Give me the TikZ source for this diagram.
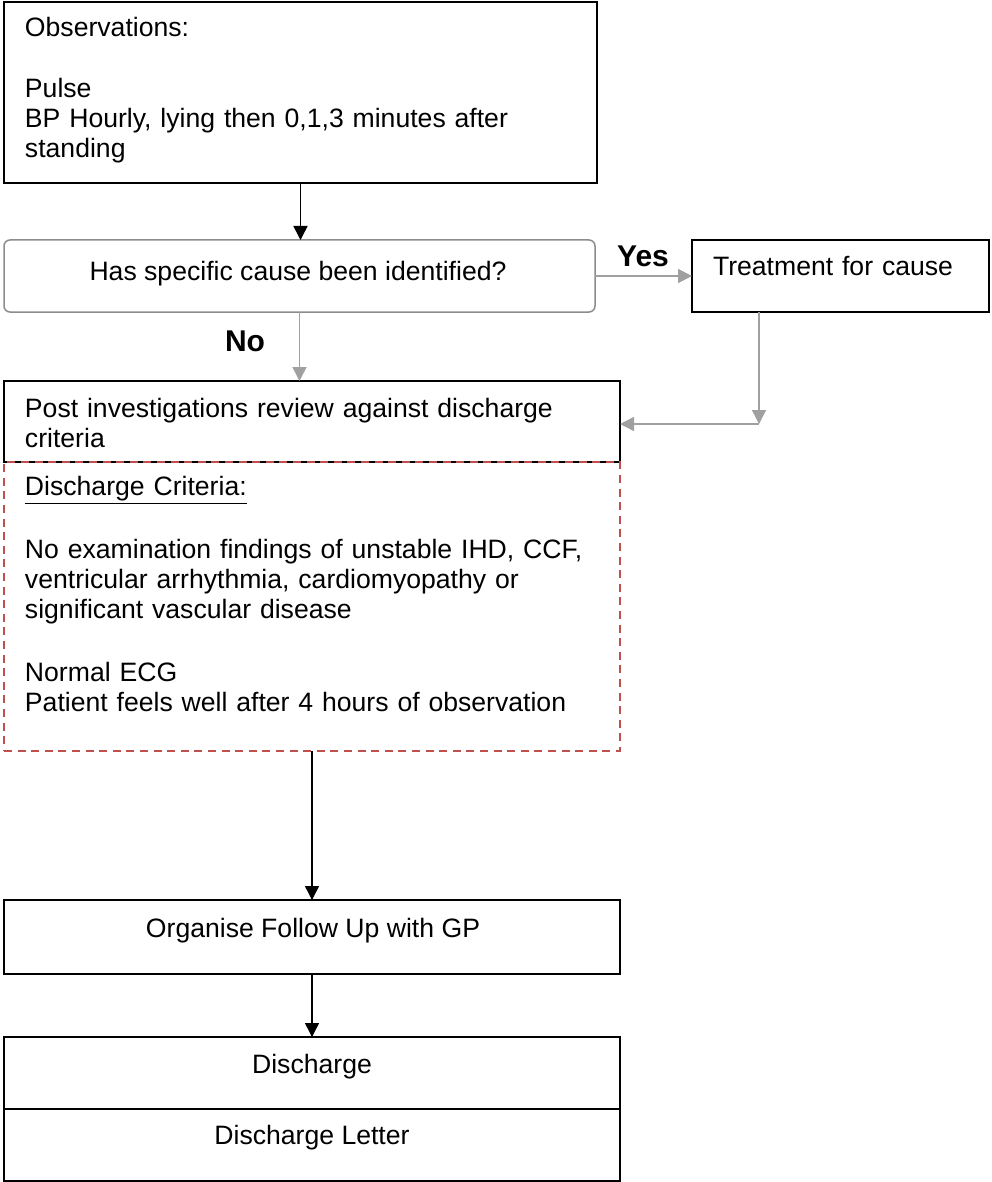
\documentclass[tikz,border=0pt]{standalone}
\usepackage{fontspec}
\setmainfont{Liberation Sans}
\usetikzlibrary{arrows.meta}

\definecolor{linegray}{HTML}{A0A0A0}
\definecolor{boxgray}{HTML}{8C8C8C}
\definecolor{critred}{HTML}{C0504D}

\begin{document}
\begin{tikzpicture}[x=0.5pt,y=-0.5pt,inner sep=0pt,outer sep=0pt,line width=0.75pt,
>={Triangle[length=7pt,width=7pt]},
box/.style={draw,rectangle,anchor=north west},
txt/.style={font=\fontsize{13.3}{15}\selectfont,align=left,text width=300pt,anchor=base west},
ctxt/.style={font=\fontsize{13.3}{15}\selectfont,anchor=base},
answer/.style={font=\fontsize{15}{18}\selectfont\bfseries},
grayline/.style={draw=linegray}]

\useasboundingbox (0,0) rectangle (991,1182);

% boxes
\draw (4,2) node[box,minimum width=296.5pt,minimum height=90.5pt] (obs) {};
\draw (4,240) node[box,draw=boxgray,rounded corners=3pt,minimum width=295.5pt,minimum height=36pt] (cause) {};
\draw (692,240) node[box,minimum width=148.5pt,minimum height=36pt] (treat) {};
\draw (4,381) node[box,minimum width=308pt,minimum height=40.5pt] (post) {};
\draw (4,462) node[box,draw=critred,dash pattern=on 4pt off 2.8pt,minimum width=308pt,minimum height=144.5pt] (crit) {};
\draw (4,900) node[box,minimum width=308pt,minimum height=37pt] (gp) {};
\draw (4,1037) node[box,minimum width=308pt,minimum height=36pt] (dis) {};
\draw (4,1109) node[box,minimum width=308pt,minimum height=36pt] (letter) {};

% texts
\node[txt] (obstxt) at (25,37) {Observations:\\[15.5pt]Pulse\\BP Hourly, lying then 0,1,3 minutes after\\standing};
\node[ctxt] (causetxt) at (298,280) {Has specific cause been identified?};
\node[txt,text width=140pt] (treattxt) at (713,275) {Treatment for cause};
\node[txt] (posttxt) at (25,417) {Post investigations review against discharge\\criteria};
\node[txt] (crittxt) at (25,495) {\underline{Discharge Criteria:}\\[16.5pt]No examination findings of unstable IHD, CCF,\\ventricular arrhythmia, cardiomyopathy or\\significant vascular disease\\[16.5pt]Normal ECG\\Patient feels well after 4 hours of observation};
\node[ctxt] (gptxt) at (313,937) {Organise Follow Up with GP};
\node[ctxt] (distxt) at (312,1073) {Discharge};
\node[ctxt] (lettertxt) at (312,1144) {Discharge Letter};
\node[answer] (yes) at (643,256) {Yes};
\node[answer] (no) at (245,341) {No};

% connectors
\coordinate (turn) at (759,424);
\draw[->] (obs.south) -- (obs.south |- cause.north);
\draw[->,grayline] (cause) -- (treat);
\draw[->,grayline] (cause.south) -- (cause.south |- post.north);
\draw[->,grayline] (treat.south -| turn) -- (turn);
\draw[->,grayline] (turn) -- (post.east |- turn);
\draw[->] (crit) -- (gp);
\draw[->] (gp) -- (dis);
\end{tikzpicture}
\end{document}
